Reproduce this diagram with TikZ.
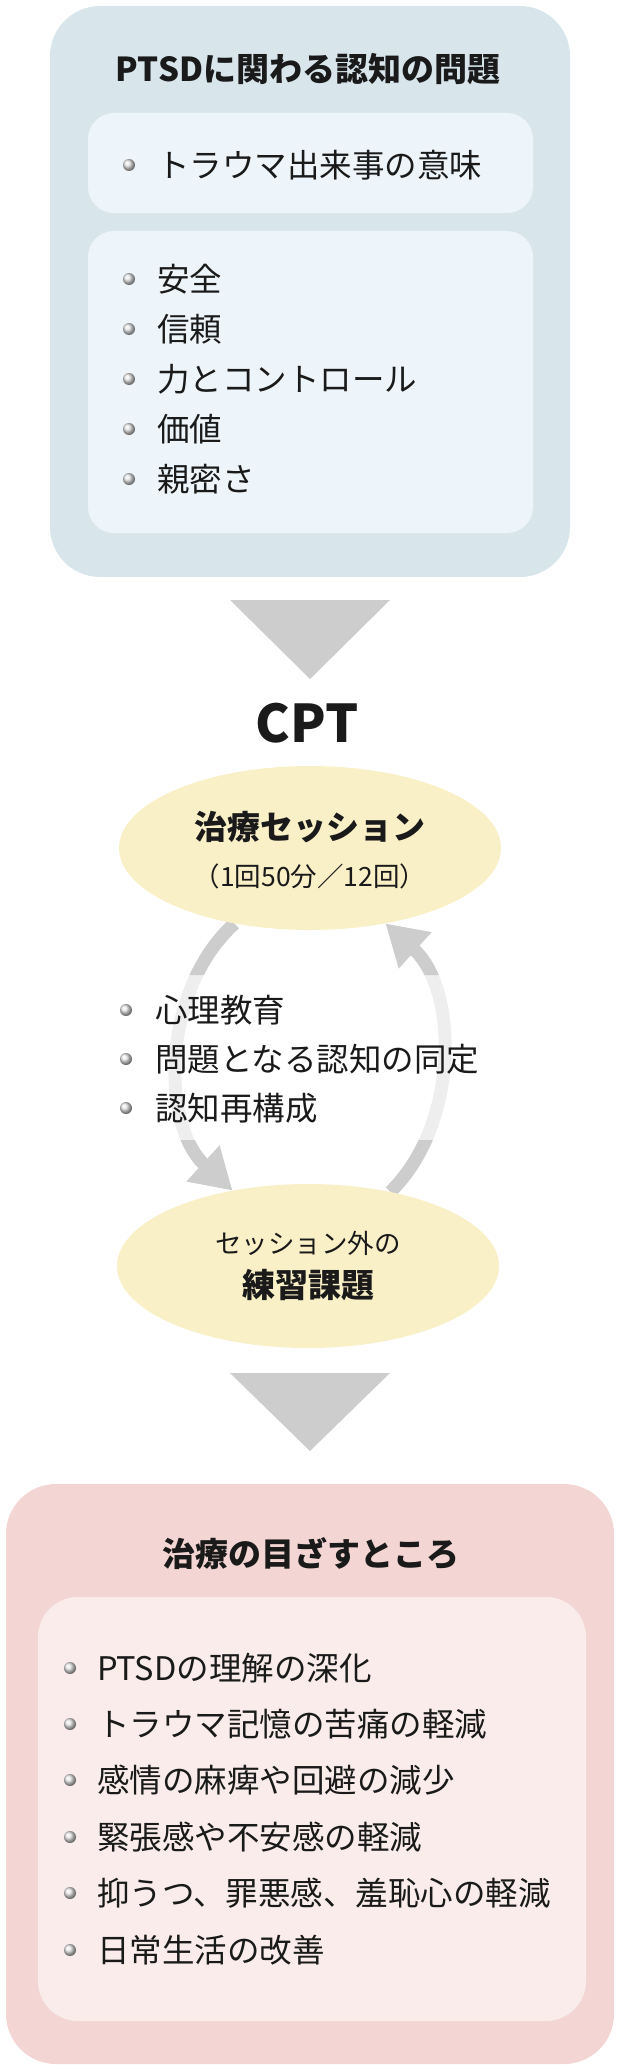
\documentclass[tikz,border=0pt]{standalone}
\usepackage{fontspec}
\setmainfont{Noto Sans CJK JP}
\usepackage{xcolor}
\usepackage{tikz}
\usetikzlibrary{shapes.geometric, arrows.meta, positioning, backgrounds}
\definecolor{probouter}{HTML}{D8E6EC}
\definecolor{probinner}{HTML}{EEF5FA}
\definecolor{ovalyellow}{HTML}{FAF0C8}
\definecolor{flowgray}{HTML}{CDCDCD}
\definecolor{cyclelight}{HTML}{EEEEEE}
\definecolor{goalouter}{HTML}{F3D6D3}
\definecolor{goalinner}{HTML}{F9ECEB}
\definecolor{inkblack}{HTML}{1A1A1A}

\begin{document}
\begin{tikzpicture}[
    x=1pt, y=1pt,
    panel/.style={inner sep=0pt, rounded corners=50pt},
    subpanel/.style={inner sep=0pt, rounded corners=26pt},
    heading/.style={inner sep=0pt, text=inkblack, font=\fontsize{33}{40}\selectfont\bfseries},
    item/.style={anchor=west, inner sep=0pt, text=inkblack, font=\fontsize{32.5}{40}\selectfont},
    oval/.style={ellipse, fill=ovalyellow, inner sep=0pt, minimum width=382pt, minimum height=164pt},
    small/.style={inner sep=0pt, text=inkblack, font=\fontsize{26.5}{32}\selectfont},
    bullet/.style={ball color=black!9},
    roundtrip/.style={line width=13pt, -{Triangle[width=46pt,length=40pt]}}
]
    \useasboundingbox (0,0) rectangle (620,-2068);

    % problems panel
    \node[panel, fill=probouter, minimum width=520pt, minimum height=571pt] (prob) at (310,-291.5) {};
    \node[heading] (probtitle) at (308,-69) {PTSDに関わる認知の問題};
    \node[subpanel, fill=probinner, minimum width=445pt, minimum height=100pt] (meaningbox) at (310.5,-163) {};
    \node[subpanel, fill=probinner, minimum width=445pt, minimum height=302pt] (themebox) at (310.5,-382) {};
    \node[item] (meaning) at (157,-165) {トラウマ出来事の意味};
    \node[item] (safety) at (157,-279) {安全};
    \node[item] (trust) at (157,-329) {信頼};
    \node[item] (power) at (157,-379) {力とコントロール};
    \node[item] (esteem) at (157,-429) {価値};
    \node[item] (intimacy) at (157,-479) {親密さ};
    \shade[bullet] ([xshift=-28pt]meaning.west) circle (6pt);
    \shade[bullet] ([xshift=-28pt]safety.west) circle (6pt);
    \shade[bullet] ([xshift=-28pt]trust.west) circle (6pt);
    \shade[bullet] ([xshift=-28pt]power.west) circle (6pt);
    \shade[bullet] ([xshift=-28pt]esteem.west) circle (6pt);
    \shade[bullet] ([xshift=-28pt]intimacy.west) circle (6pt);

    \fill[flowgray] (230,-600) -- (390,-600) -- (310,-679) -- cycle;

    % CPT cycle
    \node[heading, font=\fontsize{52}{60}\selectfont\bfseries] (cpt) at (307,-723) {CPT};
    \node[oval] (sess) at (310,-848) {};
    \node[heading] (sesstitle) at (310,-827) {治療セッション};
    \node[small] (sessnote) at (310,-876) {（1回50分／12回）};
    \node[oval] (hw) at (308,-1266) {};
    \node[small] (hwnote) at (308,-1243) {セッション外の};
    \node[heading] (hwtitle) at (308,-1285) {練習課題};

    \begin{scope}[on background layer]
        \draw[roundtrip, cyclelight] (sess.225) .. controls (161,-990) and (161,-1125) .. (hw.135);
        \draw[roundtrip, cyclelight] (hw.42) .. controls (459,-1125) and (459,-990) .. (sess.315);
        \begin{scope}
            \clip (0,-780) rectangle (620,-975) (0,-1140) rectangle (620,-1320);
            \draw[roundtrip, flowgray] (sess.225) .. controls (161,-990) and (161,-1125) .. (hw.135);
            \draw[roundtrip, flowgray] (hw.42) .. controls (459,-1125) and (459,-990) .. (sess.315);
        \end{scope}
    \end{scope}

    \node[item] (psyed) at (155,-1010) {心理教育};
    \node[item] (identify) at (155,-1059) {問題となる認知の同定};
    \node[item] (restruct) at (155,-1108) {認知再構成};
    \shade[bullet] ([xshift=-29pt]psyed.west) circle (6pt);
    \shade[bullet] ([xshift=-29pt]identify.west) circle (6pt);
    \shade[bullet] ([xshift=-29pt]restruct.west) circle (6pt);

    \fill[flowgray] (230,-1373) -- (390,-1373) -- (310,-1451) -- cycle;

    % goals panel
    \node[panel, fill=goalouter, minimum width=608pt, minimum height=580pt] (goal) at (310,-1774) {};
    \node[heading] (goaltitle) at (311,-1554) {治療の目ざすところ};
    \node[subpanel, rounded corners=40pt, fill=goalinner, minimum width=548pt, minimum height=424pt] (goalbox) at (312,-1809) {};
    \node[item] (g1) at (97,-1668) {PTSDの理解の深化};
    \node[item] (g2) at (97,-1724) {トラウマ記憶の苦痛の軽減};
    \node[item] (g3) at (97,-1780) {感情の麻痺や回避の減少};
    \node[item] (g4) at (97,-1837) {緊張感や不安感の軽減};
    \node[item] (g5) at (97,-1893) {抑うつ、罪悪感、羞恥心の軽減};
    \node[item] (g6) at (97,-1950) {日常生活の改善};
    \shade[bullet] ([xshift=-27pt]g1.west) circle (6pt);
    \shade[bullet] ([xshift=-27pt]g2.west) circle (6pt);
    \shade[bullet] ([xshift=-27pt]g3.west) circle (6pt);
    \shade[bullet] ([xshift=-27pt]g4.west) circle (6pt);
    \shade[bullet] ([xshift=-27pt]g5.west) circle (6pt);
    \shade[bullet] ([xshift=-27pt]g6.west) circle (6pt);
\end{tikzpicture}
\end{document}
